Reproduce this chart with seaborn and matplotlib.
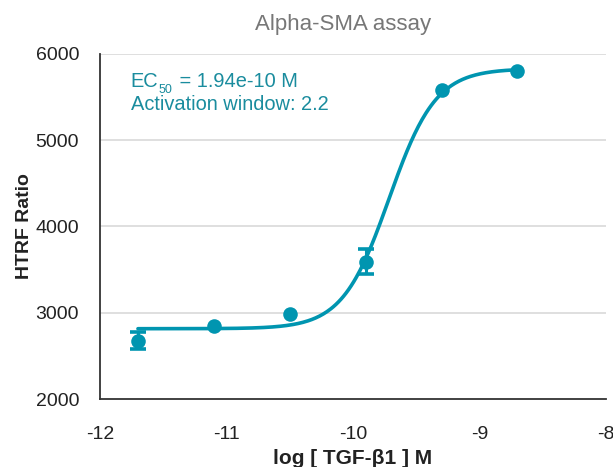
import numpy as np
import pandas as pd
import matplotlib
matplotlib.use("Agg")
import matplotlib.pyplot as plt
from matplotlib.transforms import offset_copy
import seaborn as sns

# data
log_conc = [-11.7, -11.1, -10.5, -9.9, -9.3, -8.7]
htrf = [2672, 2846, 2985, 3588, 5583, 5806]
err_lo = [92, 0, 0, 140, 0, 0]
err_hi = [105, 0, 0, 150, 0, 0]
# 4PL fit parameters (estimated)
fit_bottom = 2815
fit_top = 5830
fit_logec50 = -9.715
fit_hill = 2.35

teal = "#0095B0"
text_teal = "#1A8C9E"

sns.set_theme(style="white")
plt.rcParams["font.family"] = ["Liberation Sans", "DejaVu Sans"]

fig = plt.figure(figsize=(6.13, 4.67), dpi=100)
ax = fig.add_axes([100/613, 1-399/467, 506/613, 345/467])

xs = np.linspace(min(log_conc), max(log_conc), 300)
ys = fit_bottom + (fit_top - fit_bottom) / (1 + 10 ** (fit_hill * (fit_logec50 - xs)))
curve = pd.DataFrame({"x": xs, "y": ys})
pts = pd.DataFrame({"x": log_conc, "y": htrf})

for yv in [3000, 4000, 5000, 6000]:
    ax.axhline(yv, color="#d9d9d9", lw=1.2, zorder=0)

sns.lineplot(data=curve, x="x", y="y", ax=ax, color=teal, lw=2.6, zorder=2)
idx = [i for i in range(len(log_conc)) if err_lo[i] > 0 or err_hi[i] > 0]
ax.errorbar([log_conc[i] for i in idx], [htrf[i] for i in idx],
            yerr=[[err_lo[i] for i in idx], [err_hi[i] for i in idx]],
            fmt="none", ecolor=teal, elinewidth=2.2, capsize=6, capthick=2.6, zorder=3)
sns.scatterplot(data=pts, x="x", y="y", ax=ax, color=teal, s=110, edgecolor=teal,
                linewidth=0, zorder=4)

ax.set_xlim(-12, -8)
ax.set_ylim(2000, 6000)
ax.set_xticks([-12, -11, -10, -9, -8])
ax.set_yticks([2000, 3000, 4000, 5000, 6000])
ax.set_xticklabels(["-12", "-11", "-10", "-9", "-8"])
ax.tick_params(axis="both", direction="out", length=9, width=1.3, color="#333333",
               labelsize=14, labelcolor="#222222", pad=6)
ax.tick_params(axis="x", pad=10.5)
for s in ["top", "right"]:
    ax.spines[s].set_visible(False)
for s in ["left", "bottom"]:
    ax.spines[s].set_color("#333333")
    ax.spines[s].set_linewidth(1.3)

ax.set_xlabel("log [ TGF-β1 ] M", fontsize=15, fontweight="bold", color="#222222")
ax.xaxis.set_label_coords(0.5, (399 - 449) / 345)
ax.set_ylabel("HTRF Ratio", fontsize=14, fontweight="bold", color="#222222")
ax.yaxis.set_label_coords((33 - 100) / 506, 0.5)
ax.set_title("Alpha-SMA assay", fontsize=16, color="#777777", x=0.48, pad=17)

# annotation: EC50 with subscript built from pieces
renderer = fig.canvas.get_renderer()
x0, y0 = 0.0605, (399 - 87) / 345
fs = 14.4
t1 = ax.text(x0, y0, "EC", transform=ax.transAxes, fontsize=fs, color=text_teal,
             va="baseline")
w1 = t1.get_window_extent(renderer).width
t2 = ax.text(x0, y0, "50", transform=offset_copy(ax.transAxes, fig=fig, x=w1 + 0.5, y=-6, units="dots"),
             fontsize=9, color=text_teal, va="baseline")
w2 = t2.get_window_extent(renderer).width
ax.text(x0, y0, " = 1.94e-10 M", transform=offset_copy(ax.transAxes, fig=fig, x=w1 + w2 + 1.5, y=0, units="dots"),
        fontsize=fs, color=text_teal, va="baseline")
ax.text(x0, y0, "Activation window: 2.2",
        transform=offset_copy(ax.transAxes, fig=fig, x=0, y=-23, units="dots"),
        fontsize=fs, color=text_teal, va="baseline")

fig.savefig("out.png", dpi=100)
